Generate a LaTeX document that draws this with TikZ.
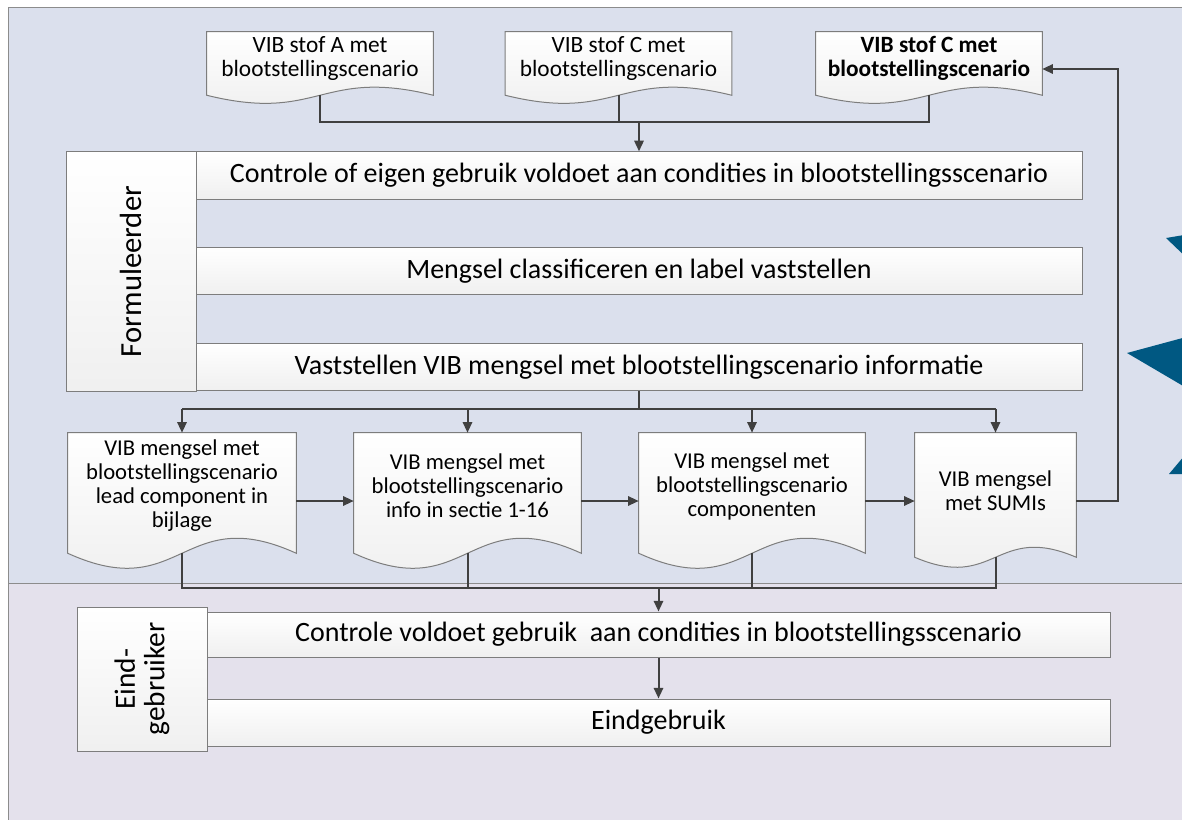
\documentclass[tikz,border=0pt]{standalone}
\usepackage{fontspec}
\setmainfont{Carlito}
\usetikzlibrary{arrows.meta,calc}

\definecolor{laneblue}{RGB}{219,224,237}
\definecolor{lanelila}{RGB}{228,225,236}
\definecolor{laneline}{RGB}{140,140,140}
\definecolor{boxline}{RGB}{125,125,125}
\definecolor{wire}{RGB}{64,64,64}
\definecolor{deepblue}{RGB}{0,88,130}

\pgfdeclarelayer{lanes}
\pgfdeclarelayer{paper}
\pgfsetlayers{lanes,paper,main}

\tikzset{
  lane/.style={draw=laneline, line width=0.75pt},
  procbox/.style={draw=boxline, line width=0.75pt, top color=white, bottom color=black!6,
    inner sep=0pt, align=center, font=\fontsize{21}{23}\selectfont},
  rolebox/.style={procbox, minimum width=97.5pt},
  roletext/.style={rotate=90, align=center, font=\fontsize{23}{25}\selectfont},
  docnode/.style={inner sep=0pt, align=center, font=\fontsize{17.5}{18}\selectfont},
  docfill/.style={draw=boxline, line width=0.75pt, top color=white, bottom color=black!7},
  wireline/.style={draw=wire, line width=1.5pt},
  marker/.style={fill=deepblue}
}

% paper shape below a document node: node, drop of the corners, depth of the wave
\newcommand{\docwave}[3]{%
  \begin{pgfonlayer}{paper}
  \path[docfill] (#1.north west) -- (#1.north east) -- ([yshift=-#2]#1.south east)
    .. controls ([yshift=-#2+#3]#1.south) and ([yshift=-#2-#3]#1.south) .. ([yshift=-#2]#1.south west) -- cycle;
  \end{pgfonlayer}
  \coordinate (#1-foot) at ([yshift=-#2]#1.south);
}

\begin{document}
\begin{tikzpicture}[x=0.75pt, y=-0.75pt, >={Triangle[length=8pt,width=7pt]}]
\useasboundingbox (0,0) rectangle (1182,820);

% swimlanes
\begin{pgfonlayer}{lanes}
\draw[lane, fill=laneblue] (8,8) rectangle (1200,583);
\draw[lane, fill=lanelila] (8,583) rectangle (1200,830);
\end{pgfonlayer}
\fill[marker] (1166,238) -- (1190,234) -- (1190,261) -- cycle;
\fill[marker] (1127,353) -- (1190,336) -- (1190,390) -- cycle;
\fill[marker] (1169,474) -- (1190,449) -- (1190,474) -- cycle;

% incoming safety data sheets
\node[docnode, minimum width=169.5pt, minimum height=39.75pt] (vibA) at (320,58.5) {VIB stof A met\\blootstellingscenario};
\node[docnode, minimum width=169.5pt, minimum height=39.75pt] (vibC) at (618.5,58.5) {VIB stof C met\\blootstellingscenario};
\node[docnode, minimum width=169.5pt, minimum height=39.75pt, font=\fontsize{17.5}{18}\selectfont\bfseries] (vibCb) at (929,58.5) {VIB stof C met\\blootstellingscenario};
\docwave{vibA}{7.5pt}{21pt}
\docwave{vibC}{7.5pt}{21pt}
\docwave{vibCb}{7.5pt}{21pt}

% formuleerder lane
\node[rolebox, minimum height=179.25pt, label={[roletext]center:Formuleerder}] (form) at (131,271.5) {};
\node[procbox, minimum width=664.5pt, minimum height=35.5pt] (ctrl) at (639,175.5) {Controle of eigen gebruik voldoet aan condities in blootstellingsscenario};
\node[procbox, minimum width=664.5pt, minimum height=35.5pt] (meng) at (639,271) {Mengsel classificeren en label vaststellen};
\node[procbox, minimum width=664.5pt, minimum height=35.5pt] (vast) at (639,367) {Vaststellen VIB mengsel met blootstellingscenario informatie};

% outgoing safety data sheets
\node[docnode, font=\fontsize{17}{18}\selectfont, minimum width=171pt, minimum height=79.5pt] (out1) at (182,486) {VIB mengsel met\\blootstellingscenario\\lead component in\\bijlage};
\node[docnode, font=\fontsize{17}{18}\selectfont, minimum width=170.25pt, minimum height=79.5pt] (out2) at (467.5,486) {VIB mengsel met\\blootstellingscenario\\info in sectie 1-16};
\node[docnode, font=\fontsize{17}{18}\selectfont, minimum width=169.5pt, minimum height=79.5pt] (out3) at (752,486) {VIB mengsel met\\blootstellingscenario\\componenten};
\node[docnode, font=\fontsize{17}{18}\selectfont, minimum width=120.75pt, minimum height=86.25pt] (out4) at (995.5,490.5) {VIB mengsel\\met SUMIs};
\docwave{out1}{10.5pt}{39pt}
\docwave{out2}{10.5pt}{39pt}
\docwave{out3}{10.5pt}{39pt}
\docwave{out4}{6.75pt}{26pt}

% eindgebruiker lane
\node[rolebox, minimum height=108pt, label={[roletext, font=\fontsize{22}{22}\selectfont]center:Eind-\\gebruiker}] (eind) at (142,679) {};
\node[procbox, minimum width=677.25pt, minimum height=33.75pt] (check) at (658.5,634.5) {Controle voldoet gebruik~ aan condities in blootstellingsscenario};
\node[procbox, minimum width=677.25pt, minimum height=35.25pt] (use) at (658.5,722.5) {Eindgebruik};

% junctions
\coordinate (topjoin) at (639,122);
\coordinate (midjoin) at (639,409);
\coordinate (row) at (0,501);
\coordinate (back) at (1118,69);
\coordinate (lowjoin) at (658.5,588);

% connectors
\draw[wireline] (vibA-foot) |- (topjoin) -| (vibCb-foot);
\draw[wireline] (vibC-foot) -- (vibC-foot |- topjoin);
\draw[wireline, ->] (topjoin) -- (ctrl);
\draw[wireline] (vast) -- (midjoin);
\draw[wireline] (out1.north |- midjoin) -- (out4.north |- midjoin);
\draw[wireline, ->] (out1.north |- midjoin) -- (out1);
\draw[wireline, ->] (out2.north |- midjoin) -- (out2);
\draw[wireline, ->] (out3.north |- midjoin) -- (out3);
\draw[wireline, ->] (out4.north |- midjoin) -- (out4);
\draw[wireline, ->] (out1.east |- row) -- (out2.west |- row);
\draw[wireline, ->] (out2.east |- row) -- (out3.west |- row);
\draw[wireline, ->] (out3.east |- row) -- (out4.west |- row);
\draw[wireline, ->] (out4.east |- row) -| (back) -- (vibCb.east |- back);
\draw[wireline] (out1-foot) |- (lowjoin) -| (out4-foot);
\draw[wireline] (out2-foot) -- (out2-foot |- lowjoin);
\draw[wireline] (out3-foot) -- (out3-foot |- lowjoin);
\draw[wireline, ->] (lowjoin) -- (check);
\draw[wireline, ->] (check) -- (use);
\end{tikzpicture}
\end{document}
